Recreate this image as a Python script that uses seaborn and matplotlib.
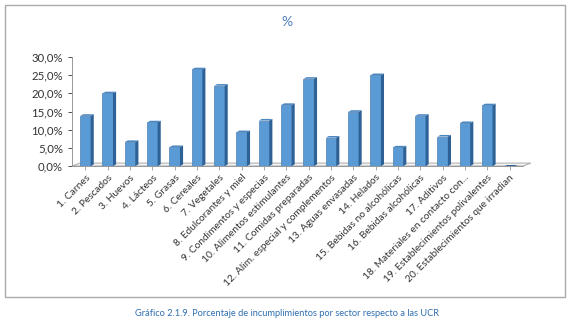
import matplotlib
matplotlib.use("Agg")
import matplotlib.pyplot as plt
import seaborn as sns
import pandas as pd
from matplotlib.ticker import FuncFormatter, MultipleLocator
from matplotlib.patches import Rectangle, Polygon

categories = [
    "1. Carnes", "2. Pescados", "3. Huevos", "4. Lácteos", "5. Grasas",
    "6. Cereales", "7. Vegetales", "8. Edulcorantes y miel",
    "9. Condimentos y especias", "10. Alimentos estimulantes",
    "11. Comidas preparadas", "12. Alim. especial y complementos",
    "13. Aguas envasadas", "14. Helados", "15. Bebidas no alcohólicas",
    "16. Bebidas alcohólicas", "17. Aditivos", "18. Materiales en contacto con...",
    "19. Establecimientos polivalentes", "20. Establecimientos que irradian",
]
values = [13.8, 20.0, 6.6, 12.0, 5.2, 26.6, 22.1, 9.3, 12.5, 16.8,
          24.0, 7.8, 14.9, 25.0, 5.1, 13.8, 8.1, 11.8, 16.7, 0.0]

title = "%"
caption = "Gráfico 2.1.9. Porcentaje de incumplimientos por sector respecto a las UCR"

sns.set_theme(style="white")
plt.rcParams['font.family'] = ['Lato', 'DejaVu Sans']

W, H = 572, 322
fig = plt.figure(figsize=(W / 100, H / 100), dpi=100)
ax = fig.add_axes([72 / W, 1 - 166 / H, (523 - 72) / W, (166 - 57) / H])

df = pd.DataFrame({"cat": categories, "val": values})
front = "#5B9BD5"
side = "#2E6297"
sns.barplot(data=df, x="cat", y="val", ax=ax, color=front, width=0.47,
            saturation=1, edgecolor="#3A6EA5", linewidth=0.4, zorder=3)

n = len(categories)
ax.set_xlim(-0.6, n - 0.4)
ax.set_ylim(0, 30)

# pseudo-3D side and top faces derived from the drawn bars
dx, dy = 0.14, 0.45
for p in list(ax.patches):
    x0, w, h = p.get_x(), p.get_width(), p.get_height()
    if h <= 0:
        ax.add_patch(Polygon([(x0, 0), (x0 + dx, dy * 0.6), (x0 + w + dx, dy * 0.6), (x0 + w, 0)],
                             closed=True, facecolor=side, edgecolor="none", zorder=3,
                             clip_on=False))
        continue
    ax.add_patch(Polygon([(x0 + w, 0), (x0 + w + dx, dy), (x0 + w + dx, h + dy), (x0 + w, h)],
                         closed=True, facecolor=side, edgecolor="none", zorder=3))
    ax.add_patch(Polygon([(x0, h), (x0 + dx, h + dy), (x0 + w + dx, h + dy), (x0 + w, h)],
                         closed=True, facecolor="#4A86C0", edgecolor="none", zorder=3))

# floor outline
fx0, fx1 = -0.6, n - 0.4
fdx, fdy = 0.35, 0.8
ax.add_patch(Polygon([(fx0, 0), (fx0 + fdx, fdy), (fx1 + fdx, fdy), (fx1, 0)], closed=True,
                     facecolor="#F4F4F4", edgecolor="#AAAAAA", linewidth=0.7, zorder=1,
                     clip_on=False))

ax.yaxis.set_major_locator(MultipleLocator(5))
ax.yaxis.set_major_formatter(FuncFormatter(lambda v, _: f"{v:.1f}%".replace(".", ",")))
ax.set_xlabel("")
ax.set_ylabel("")
ax.set_xticks(range(n))
ax.set_xticklabels(categories, rotation=45, ha="right", rotation_mode="anchor",
                   fontsize=7.3, color="#333333")
ax.tick_params(axis="y", labelsize=8.2, colors="#333333", length=3, width=0.6, left=True)
ax.tick_params(axis="x", length=3, width=0.6, bottom=True, pad=2, color="#999999")
for s in ["top", "right"]:
    ax.spines[s].set_visible(False)
ax.spines["left"].set_color("#999999")
ax.spines["bottom"].set_color("#999999")
ax.spines["left"].set_linewidth(0.7)
ax.spines["bottom"].set_linewidth(0.7)

fig.text(287 / W, 1 - 22 / H, title, ha="center", va="center", fontsize=10, color="#4F81BD")

fig.add_artist(Rectangle((5 / W, 1 - 297 / H), 560 / W, 292 / H, transform=fig.transFigure,
                         fill=False, edgecolor="#AAAAAA", linewidth=1))
fig.text(287 / W, 1 - 314 / H, caption, ha="center", va="center", fontsize=6.7, color="#2F6EB0")

fig.savefig("out.png", dpi=100)
